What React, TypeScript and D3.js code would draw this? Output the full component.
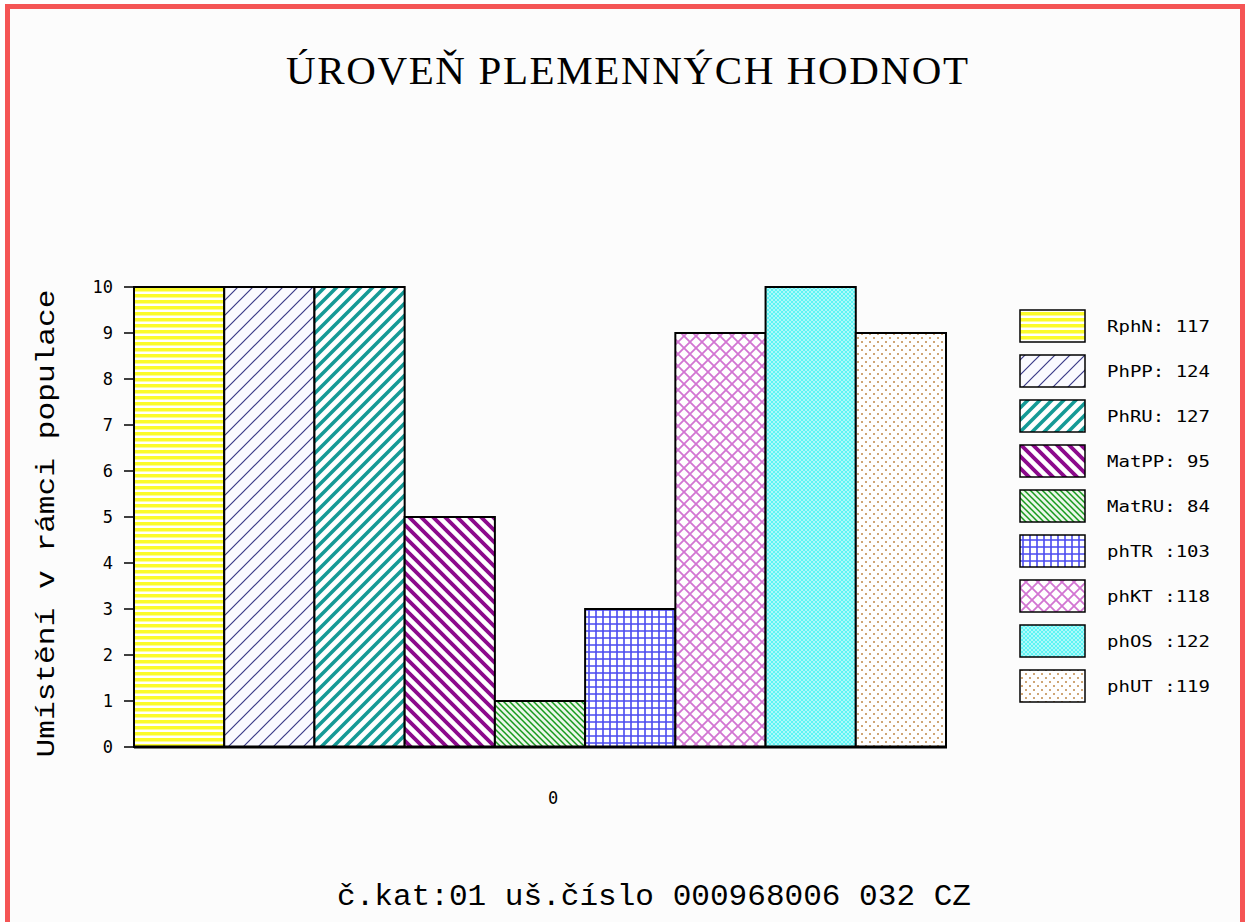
import React from 'react';
import * as d3 from 'd3';

const W = 1247;
const H = 922;

const categories = ['RphN', 'PhPP', 'PhRU', 'MatPP', 'MatRU', 'phTR', 'phKT', 'phOS', 'phUT'];
const legendLabels = ['RphN: 117', 'PhPP: 124', 'PhRU: 127', 'MatPP: 95', 'MatRU: 84', 'phTR :103', 'phKT :118', 'phOS :122', 'phUT :119'];
const ranks = [10, 10, 10, 5, 1, 3, 9, 10, 9];
const yTicks = [0, 1, 2, 3, 4, 5, 6, 7, 8, 9, 10];
const xLabel = '0';

const mono = '"DejaVu Sans Mono", "Liberation Mono", monospace';
const thinMono = '"Liberation Mono", "DejaVu Sans Mono", monospace';

// one svg pattern per series
const Patterns = () => (
  <defs>
    <pattern id="p0" width="8" height="6" patternUnits="userSpaceOnUse">
      <rect width="8" height="6" fill="#ffffff" />
      <rect y="0" width="8" height="3.5" fill="#fbfb2a" />
    </pattern>
    <pattern id="p1" width="15" height="15" patternUnits="userSpaceOnUse">
      <rect width="15" height="15" fill="#fafaff" />
      <path d="M-2,2 L2,-2 M0,15 L15,0 M13,17 L17,13" stroke="#3a3a88" strokeWidth="1.2" />
    </pattern>
    <pattern id="p2" width="12" height="12" patternUnits="userSpaceOnUse">
      <rect width="12" height="12" fill="#ffffff" />
      <path d="M-3,3 L3,-3 M0,12 L12,0 M9,15 L15,9" stroke="#159a96" strokeWidth="3.6" />
    </pattern>
    <pattern id="p3" width="12" height="12" patternUnits="userSpaceOnUse">
      <rect width="12" height="12" fill="#ffffff" />
      <path d="M-3,9 L3,15 M0,0 L12,12 M9,-3 L15,3" stroke="#8c0a8c" strokeWidth="3.8" />
    </pattern>
    <pattern id="p4" width="6" height="6" patternUnits="userSpaceOnUse">
      <rect width="6" height="6" fill="#ecf6ea" />
      <path d="M-1.5,4.5 L1.5,7.5 M0,0 L6,6 M4.5,-1.5 L7.5,1.5" stroke="#179a1c" strokeWidth="1.5" />
    </pattern>
    <pattern id="p5" width="7" height="7" patternUnits="userSpaceOnUse">
      <rect width="7" height="7" fill="#ffffff" />
      <path d="M0,1 L7,1 M1,0 L1,7" stroke="#4a4af0" strokeWidth="1.6" />
    </pattern>
    <pattern id="p6" width="12" height="12" patternUnits="userSpaceOnUse">
      <rect width="12" height="12" fill="#ffffff" />
      <path d="M0,0 L12,12 M12,0 L0,12" stroke="#d275d2" strokeWidth="1.8" />
    </pattern>
    <pattern id="p7" width="4" height="4" patternUnits="userSpaceOnUse">
      <rect width="4" height="4" fill="#5ef4f4" />
      <path d="M0,0 L4,4 M4,0 L0,4" stroke="#c2fbfb" strokeWidth="0.8" />
    </pattern>
    <pattern id="p8" width="8" height="8" patternUnits="userSpaceOnUse">
      <rect width="8" height="8" fill="#ffffff" />
      <circle cx="2" cy="2" r="1" fill="#c08848" />
      <circle cx="6" cy="6" r="1" fill="#c08848" />
    </pattern>
  </defs>
);

const App = () => {
  const x = d3.scaleBand<string>().domain(categories).range([134, 946]).padding(0);
  const y = d3.scaleLinear().domain([0, 10]).range([747, 287]);

  const legendY = d3.scaleBand<string>().domain(categories).range([310, 715]).padding(0);

  return (
    <svg width={W} height={H} style={{ position: 'absolute', left: 0, top: 0, display: 'block' }}>
      <Patterns />
      <rect width={W} height={H} fill="#ffffff" />
      <rect x={7.5} y={6.5} width={W - 12} height={H + 20} fill="#fcfcfc" stroke="#f55555" strokeWidth={5} />

      {/* title */}
      <text x={627} y={84} textAnchor="middle" fontFamily='"Liberation Serif", "DejaVu Serif", serif'
        fontSize={41} textLength={682} lengthAdjust="spacing" fill="#000">
        ÚROVEŇ PLEMENNÝCH HODNOT
      </text>

      {/* bars */}
      {ranks.map((v, i) => (
        <rect key={categories[i]} x={x(categories[i])} y={y(v)} width={x.bandwidth()} height={y(0) - y(v)}
          fill={`url(#p${i})`} stroke="#000" strokeWidth={2} />
      ))}

      {/* y axis */}
      <line x1={134} x2={134} y1={y(10)} y2={y(0)} stroke="#000" strokeWidth={1.5} />
      {yTicks.map(t => (
        <g key={t}>
          <line x1={124} x2={134} y1={y(t)} y2={y(t)} stroke="#000" strokeWidth={1.5} />
          <text x={113} y={y(t) + 6} textAnchor="end" fontFamily={mono} fontSize={17} fill="#000">{t}</text>
        </g>
      ))}
      <line x1={134} x2={947} y1={y(0)} y2={y(0)} stroke="#000" strokeWidth={3} />

      {/* x label */}
      <text x={553} y={804} textAnchor="middle" fontFamily={mono} fontSize={17} fill="#000">{xLabel}</text>

      {/* y title */}
      <text transform={`translate(54,${(287 + 760) / 2}) rotate(-90)`} textAnchor="middle" fontFamily={thinMono}
        fontSize={25} textLength={468} lengthAdjust="spacingAndGlyphs" fill="#000">
        Umístění v rámci populace
      </text>

      {/* legend */}
      {categories.map((c, i) => {
        const ly = legendY(c)!;
        return (
          <g key={c}>
            <rect x={1020} y={ly} width={65} height={32} fill={`url(#p${i})`} stroke="#000" strokeWidth={1.5} />
            <text x={1107} y={ly + 22} fontFamily={mono} fontSize={16} textLength={103} lengthAdjust="spacingAndGlyphs" fill="#000">
              {legendLabels[i]}
            </text>
          </g>
        );
      })}

      {/* footer */}
      <text x={337} y={905} fontFamily={thinMono} fontSize={29} textLength={634} lengthAdjust="spacingAndGlyphs" fill="#000">
        č.kat:01 uš.číslo 000968006 032 CZ
      </text>
    </svg>
  );
};

export default App;
